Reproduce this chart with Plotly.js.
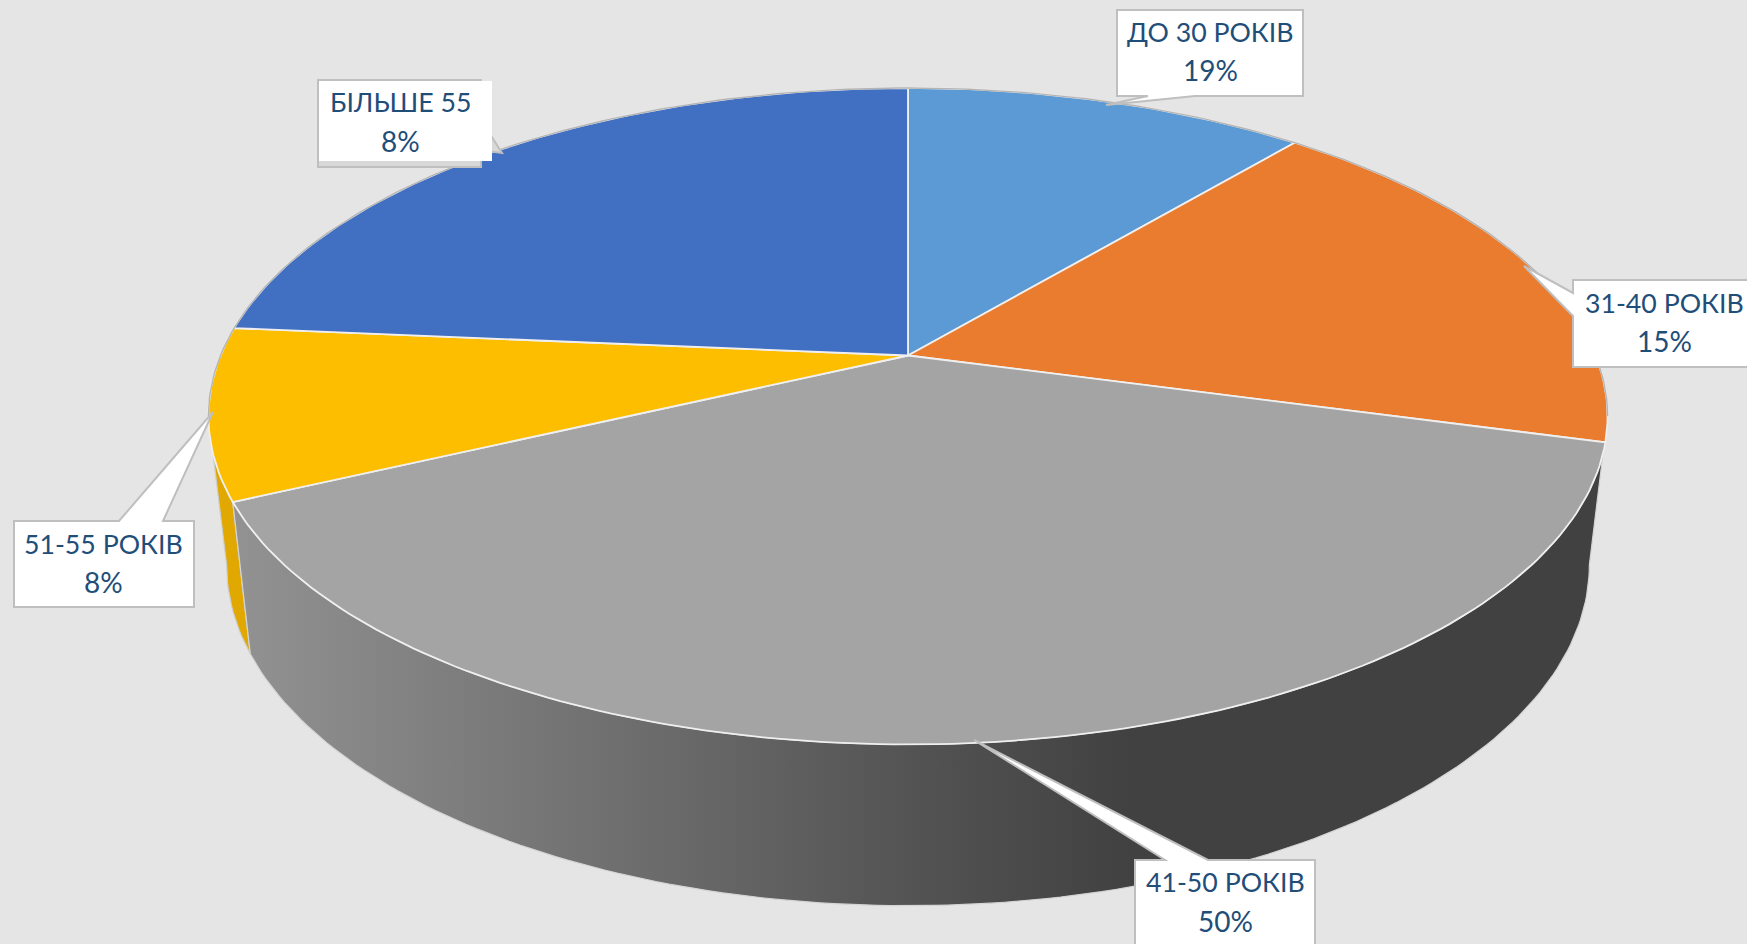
<!DOCTYPE html>
<html>
<head>
<meta charset="utf-8">
<script src="https://cdn.plot.ly/plotly-3.0.1.min.js"></script>
<style>html,body{margin:0;padding:0;background:#e5e5e5;overflow:hidden}#chart{width:1747px;height:944px}</style>
</head>
<body>
<div id="chart"></div>
<script>
// Data
const categories = ["ДО 30 РОКІВ", "31-40 РОКІВ", "41-50 РОКІВ", "51-55 РОКІВ", "БІЛЬШЕ 55"];
const printedPercents = [19, 15, 50, 8, 8];          // numbers printed in the callouts
const drawnShares = [11.1, 18.1, 38.8, 8.4, 23.6];   // share of the circle each slice occupies as drawn

// Styles
const topColors = ["#5b9ad4", "#ea7c2f", "#a4a4a4", "#fdbe00", "#416fc1"];
const textColor = "#1f4e79";
const calloutLine = "#bfbfbf";

// Perspective view of the disc (pixel-valued axes)
const k = 0.185, midX = 908;
const topRim = {A: 687.5, B: 317, c: 355.5};
const baseRim = {A: 669.6, B: 329, c: 502};
const proj = (deg, P) => {
  const t = deg * Math.PI / 180, X = Math.sin(t), Y = Math.cos(t), w = 1 + k * Y;
  return [midX + P.A * X / w, P.c - P.B * Y / w];
};
const arc = (a, b, P) => {
  const n = Math.max(2, Math.ceil(Math.abs(b - a))), pts = [];
  for (let i = 0; i <= n; i++) pts.push(proj(a + (b - a) * i / n, P));
  return pts;
};
const total = drawnShares.reduce((s, v) => s + v, 0);
const edges = [0];
drawnShares.forEach(v => edges.push(edges[edges.length - 1] + v / total * 360));
const sil = Math.asin(k) * 180 / Math.PI;
const silRight = 90 + sil, silLeft = 270 - sil;

const polyTrace = (pts, extra) => Object.assign({
  type: "scatter", mode: "lines", x: pts.map(p => p[0]), y: pts.map(p => p[1]),
  hoverinfo: "skip", showlegend: false
}, extra);

const wall = (a, b) => arc(a, b, topRim).concat(arc(b, a, baseRim)).concat([proj(a, topRim)]);

const traces = [];
// side walls
traces.push(polyTrace(wall(edges[3], silLeft), {
  fill: "toself", fillcolor: "#e0a800", line: {color: "#cfcfcf", width: 1.2}
}));
traces.push(polyTrace(wall(silRight, edges[3]), {
  fill: "toself",
  fillgradient: {type: "horizontal", start: 1130, stop: 235,
    colorscale: [[0, "#414141"], [0.2, "#505050"], [1, "#929292"]]},
  line: {color: "#d4d4d4", width: 1.2}
}));
// top faces
drawnShares.forEach((v, i) => {
  const pts = [[midX, topRim.c]].concat(arc(edges[i], edges[i + 1], topRim)).concat([[midX, topRim.c]]);
  traces.push(polyTrace(pts, {
    fill: "toself", fillcolor: topColors[i], line: {color: "#efefef", width: 1.8}
  }));
});
// back rim against the background
traces.push(polyTrace(arc(silLeft - 360, silRight, topRim), {line: {color: "#b4b4b4", width: 1.4}}));

// Callout outlines
const callout = (d, fill) => ({type: "path", path: d, layer: "above", fillcolor: fill || "#ffffff",
  line: {color: calloutLine, width: 2}});
const shapes = [
  callout("M1117,10 L1303,10 L1303,96 L1195,96 L1106,105 L1148,96 L1117,96 Z"),
  callout("M1573,280 L1750,280 L1750,367 L1573,367 L1573,316 L1524,266 L1573,293 Z"),
  callout("M1135,860 L1165,860 L974,740 L1208,860 L1315,860 L1315,950 L1135,950 Z"),
  callout("M14,521 L119,521 L213,412 L163,521 L194,521 L194,607 L14,607 Z"),
  callout("M318,80 L481,80 L481,120 L502,153 L481,150 L481,167 L318,167 Z", "#d8d8d8"),
  {type: "rect", x0: 319, x1: 492, y0: 81, y1: 161, layer: "above", fillcolor: "#ffffff", line: {width: 0}}
];

const nameCentre = [[1210, 32], [1664, 303], [1225, 882], [103, 544], [401, 102]];
const percentCentre = [[1210, 70], [1664, 341], [1225, 921], [103, 582], [400, 141]];
const text = (pos, str, size) => ({
  x: pos[0], y: pos[1], xref: "x", yref: "y", xanchor: "center", yanchor: "middle",
  showarrow: false, text: str,
  font: {family: "Lato, 'Open Sans', sans-serif", size: size, color: textColor}
});
const annotations = [];
categories.forEach((c, i) => {
  annotations.push(text(nameCentre[i], c, 26.7));
  annotations.push(text(percentCentre[i], printedPercents[i] + "%", 28));
});

Plotly.newPlot("chart", traces, {
  width: 1747, height: 944,
  margin: {l: 0, r: 0, t: 0, b: 0},
  paper_bgcolor: "#e5e5e5", plot_bgcolor: "#e5e5e5",
  xaxis: {range: [0, 1747], visible: false, fixedrange: true},
  yaxis: {range: [944, 0], visible: false, fixedrange: true},
  showlegend: false, shapes, annotations
}, {displayModeBar: false, staticPlot: true});
</script>
</body>
</html>
